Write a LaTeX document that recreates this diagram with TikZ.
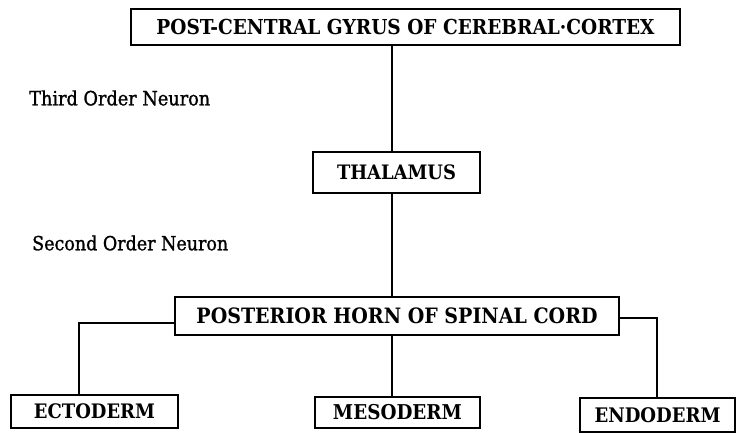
\documentclass[tikz,border=0pt]{standalone}
\usepackage{fontspec}
\setmainfont{DejaVu Serif}
\newfontfamily\boxfont{DejaVu Serif Condensed Bold}
\newfontfamily\lblfont{DejaVu Serif Condensed}[FakeBold=1.2]
\newcommand{\fitw}[2]{\resizebox{#1pt}{!}{#2}}
\tikzset{
  box/.style={draw=black, line width=2pt, fill=white, inner sep=0pt, align=center, font=\boxfont},
  conn/.style={draw=black, line width=1.3pt},
  lbl/.style={anchor=west, inner sep=0pt, font=\lblfont}
}
\begin{document}
\begin{tikzpicture}[x=1pt,y=-1pt]
\useasboundingbox (0,0) rectangle (738,433);
\node[box, minimum width=549pt, minimum height=36pt] (top) at (405.5,27)
  {\fitw{498}{POST-CENTRAL GYRUS OF CEREBRAL·CORTEX}};
\node[box, minimum width=167pt, minimum height=41pt] (thal) at (396.5,172.5)
  {\fitw{119}{THALAMUS}};
\node[box, minimum width=444pt, minimum height=38pt] (post) at (397,316)
  {\fitw{401}{POSTERIOR HORN OF SPINAL CORD}};
\node[box, minimum width=167pt, minimum height=33pt] (ecto) at (94.5,411.5)
  {\fitw{121}{ECTODERM}};
\node[box, minimum width=165pt, minimum height=31pt] (meso) at (397.5,412.5)
  {\fitw{129}{MESODERM}};
\node[box, minimum width=155pt, minimum height=34pt] (endo) at (657.5,415)
  {\fitw{126}{ENDODERM}};
\node[lbl] (third) at (29,98) {\fitw{181}{Third Order Neuron}};
\node[lbl] (second) at (32,243) {\fitw{196}{Second Order Neuron}};
\coordinate (spine) at (392,0);
\coordinate (lc) at (79,323);
\coordinate (rc) at (657,318);
\draw[conn] (top.south -| spine) -- (thal.north -| spine);
\draw[conn] (thal.south -| spine) -- (post.north -| spine);
\draw[conn] (post.south -| spine) -- (meso.north -| spine);
\draw[conn] (post.west |- lc) -| (ecto.north -| lc);
\draw[conn] (post.east |- rc) -| (endo.north -| rc);
\end{tikzpicture}
\end{document}
